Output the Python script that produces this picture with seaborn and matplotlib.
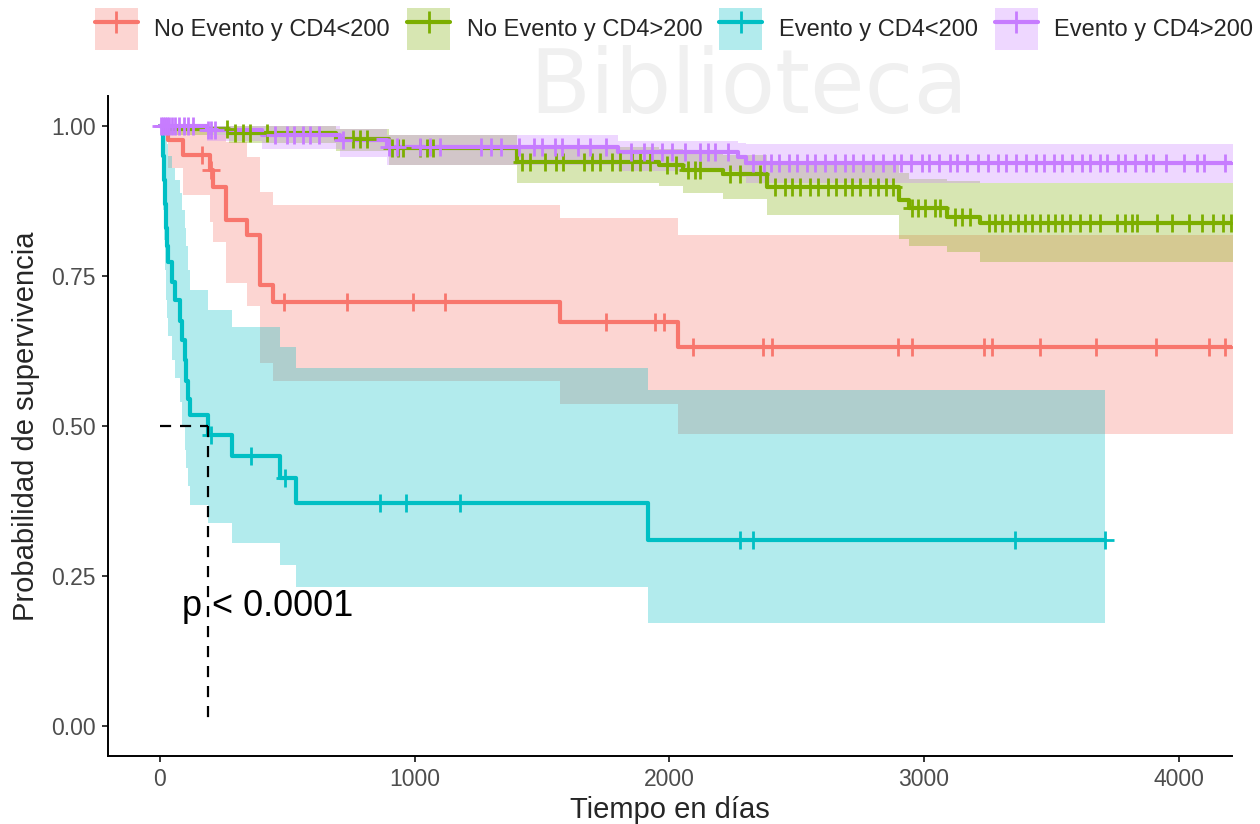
import numpy as np
import pandas as pd
import matplotlib
matplotlib.use("Agg")
import matplotlib.pyplot as plt
import seaborn as sns
from matplotlib.patches import Patch
from matplotlib.lines import Line2D
from matplotlib.legend_handler import HandlerTuple

# ---------------- data ----------------
groups = ["No Evento y CD4<200", "No Evento y CD4>200", "Evento y CD4<200", "Evento y CD4>200"]
colors = ["#F8766D", "#7CAE00", "#00BFC4", "#C77CFF"]

red_t = [31, 90, 196, 210, 259, 342, 393, 444, 1570, 2035]
red_s = [0.977, 0.952, 0.927, 0.898, 0.843, 0.818, 0.735, 0.707, 0.673, 0.632]
red_hi = [1.0, 1.0, 0.995, 0.985, 0.973, 0.948, 0.89, 0.868, 0.847, 0.818]
red_lo = [0.93, 0.885, 0.84, 0.807, 0.738, 0.70, 0.605, 0.575, 0.537, 0.487]
red_cens = [165, 200, 487, 734, 993, 1119, 1751, 1943, 1979, 2093, 2367, 2403, 2898, 2952,
            3235, 3267, 3455, 3675, 3910, 4119, 4181]
red_end = 4300

green_t = [40, 270, 690, 900, 1402, 1960, 2053, 2210, 2383, 2902, 2941, 3090, 3220]
green_s = [0.995, 0.988, 0.978, 0.963, 0.940, 0.935, 0.927, 0.920, 0.898, 0.877, 0.863, 0.848, 0.838]
green_hi = [1.0, 1.0, 0.995, 0.985, 0.965, 0.962, 0.958, 0.952, 0.935, 0.922, 0.912, 0.908, 0.905]
green_lo = [0.985, 0.972, 0.958, 0.935, 0.905, 0.90, 0.888, 0.878, 0.852, 0.812, 0.80, 0.79, 0.773]
green_cens = [263, 294, 326, 353, 420, 758, 785, 813, 911, 934, 954, 1021, 1048, 1072,
              1421, 1453, 1512, 1555, 1582, 1665, 1696, 1727, 1775, 1806, 1853, 1884, 1924,
              1990, 2026, 2073, 2100, 2120, 2238, 2277, 2356, 2415, 2454, 2481, 2513, 2552,
              2583, 2623, 2654, 2689, 2717, 2748, 2787, 2819, 2850, 2878, 2952, 2976, 3003,
              3043, 3062, 3121, 3149, 3180, 3255, 3278, 3306, 3337, 3369, 3396, 3423, 3455,
              3486, 3514, 3541, 3573, 3612, 3651, 3690, 3757, 3789, 3816, 3836, 3914, 3973,
              4040, 4091, 4134, 4173, 4205]
green_end = 4300

cyan_t = [12, 16, 20, 24, 28, 31, 47, 59, 79, 86, 98, 102, 110, 118, 188, 282, 470, 534, 1916]
cyan_s = [0.95, 0.91, 0.87, 0.83, 0.80, 0.773, 0.74, 0.71, 0.675, 0.643, 0.61, 0.575, 0.545,
          0.518, 0.485, 0.45, 0.413, 0.372, 0.31]
cyan_hi = [1.0, 1.0, 1.0, 0.99, 0.97, 0.95, 0.93, 0.91, 0.888, 0.86, 0.83, 0.80, 0.76,
           0.727, 0.693, 0.665, 0.632, 0.597, 0.56]
cyan_lo = [0.86, 0.81, 0.76, 0.71, 0.68, 0.65, 0.61, 0.58, 0.54, 0.50, 0.46, 0.43, 0.40,
           0.368, 0.338, 0.305, 0.268, 0.232, 0.172]
cyan_cens = [200, 357, 491, 864, 966, 1178, 2277, 2328, 3357, 3710]
cyan_end = 3710

purple_t = [185, 400, 707, 891, 1800, 2270, 2300]
purple_s = [0.993, 0.985, 0.977, 0.965, 0.957, 0.948, 0.938]
purple_hi = [1.0, 1.0, 0.995, 0.985, 0.975, 0.972, 0.97]
purple_lo = [0.975, 0.962, 0.948, 0.935, 0.925, 0.915, 0.905]
purple_cens = [5, 12, 20, 28, 35, 48, 60, 75, 95, 110, 130, 190, 200, 215, 450, 500, 525, 560,
               590, 625, 720, 900, 930, 1020, 1060, 1100, 1260, 1300, 1340, 1410, 1470, 1500,
               1550, 1580, 1640, 1690, 1750, 1850, 1900, 1930, 1970, 2010, 2060, 2120, 2150,
               2180, 2230, 2330, 2370, 2400, 2430, 2470, 2500, 2540, 2570, 2610, 2650, 2690,
               2720, 2760, 2800, 2840, 2880, 2910, 2950, 2990, 3020, 3060, 3100, 3130, 3170,
               3210, 3250, 3290, 3320, 3360, 3400, 3440, 3470, 3510, 3540, 3580, 3620, 3650,
               3690, 3720, 3760, 3790, 3830, 3870, 3900, 3950, 4020, 4070, 4100, 4180, 4230]
purple_end = 4300

x_ticks = [0, 1000, 2000, 3000, 4000]
y_ticks = [0.00, 0.25, 0.50, 0.75, 1.00]
pval_text = "p < 0.0001"

curves = [
    (red_t, red_s, red_hi, red_lo, red_cens, red_end),
    (green_t, green_s, green_hi, green_lo, green_cens, green_end),
    (cyan_t, cyan_s, cyan_hi, cyan_lo, cyan_cens, cyan_end),
    (purple_t, purple_s, purple_hi, purple_lo, purple_cens, purple_end),
]

# ---------------- build tables ----------------
line_rows, cens_rows = [], []
for g, (t, s, hi, lo, cens, end) in zip(groups, curves):
    tt = [0] + list(t) + [end]
    ss = [1.0] + list(s) + [s[-1]]
    hh = [1.0] + list(hi) + [hi[-1]]
    ll = [1.0] + list(lo) + [lo[-1]]
    for a, b, c, d in zip(tt, ss, hh, ll):
        line_rows.append((g, a, b, c, d))
    tarr = np.array([0] + list(t))
    sarr = np.array([1.0] + list(s))
    for c in cens:
        idx = np.searchsorted(tarr, c, side="right") - 1
        cens_rows.append((g, c, sarr[idx]))

lines_df = pd.DataFrame(line_rows, columns=["grupo", "tiempo", "surv", "upper", "lower"])
cens_df = pd.DataFrame(cens_rows, columns=["grupo", "tiempo", "surv"])
palette = dict(zip(groups, colors))

# ---------------- plot ----------------
sns.set_style("ticks")
plt.rcParams["font.family"] = ["Liberation Sans", "DejaVu Sans"]

fig = plt.figure(figsize=(12.6, 8.24), dpi=100)
fig.patch.set_facecolor("white")
ax = fig.add_axes([108 / 1260, 1 - 756 / 824, (1232 - 108) / 1260, (756 - 96) / 824])
ax.patch.set_alpha(0)

# faint watermark
fig.text(0.594, 1 - 113 / 824, "Biblioteca", fontsize=64, color="#F0F0F0", ha="center",
         va="baseline", family="DejaVu Sans", zorder=-5)

for g in groups:
    d = lines_df[lines_df.grupo == g]
    ax.fill_between(d.tiempo, d.lower, d.upper, step="post", color=palette[g], alpha=0.3,
                    linewidth=0, zorder=1)

sns.lineplot(data=lines_df, x="tiempo", y="surv", hue="grupo", hue_order=groups,
             palette=palette, estimator=None, sort=False, drawstyle="steps-post",
             linewidth=3, legend=False, ax=ax, zorder=2)

for g in groups:
    d = cens_df[cens_df.grupo == g]
    sns.scatterplot(data=d, x="tiempo", y="surv", color=palette[g], marker="+", s=170,
                    linewidth=2, legend=False, ax=ax, zorder=3)

# median survival line for the lowest group
ct = np.array([0] + cyan_t)
cs = np.array([1.0] + cyan_s)
med_t = ct[np.argmax(cs <= 0.5)]
ax.plot([0, med_t], [0.5, 0.5], color="black", lw=1.6, ls=(0, (5, 4)), zorder=4)
ax.plot([med_t, med_t], [0.5, 0.0], color="black", lw=1.6, ls=(0, (5, 4)), zorder=4)

ax.text(86, 0.2, pval_text, fontsize=26, ha="left", va="center", color="black", zorder=5)

ax.set_xlim(-204, 4209)
ax.set_ylim(-0.05, 1.05)
ax.set_xticks(x_ticks)
ax.set_xticklabels([str(v) for v in x_ticks])
ax.set_yticks(y_ticks)
ax.set_yticklabels([f"{v:.2f}" for v in y_ticks])
ax.tick_params(axis="both", labelsize=16.5, labelcolor="#4D4D4D", length=4, width=1.1,
               color="black", pad=5, direction="out")
for side in ["top", "right"]:
    ax.spines[side].set_visible(False)
for side in ["left", "bottom"]:
    ax.spines[side].set_linewidth(1.4)
    ax.spines[side].set_color("black")
ax.set_xlabel("Tiempo en días", fontsize=21, labelpad=3)
ax.set_ylabel("Probabilidad de supervivencia", fontsize=21, labelpad=8)

handles = [(Patch(facecolor=c, alpha=0.3, edgecolor="none"),
            Line2D([], [], color=c, lw=3, marker="+", markersize=16, mew=2)) for c in colors]
fig.legend(handles, groups, handler_map={tuple: HandlerTuple(ndivide=1, pad=0)},
           loc="upper left", bbox_to_anchor=(95 / 1260, 1 - 8 / 824), ncol=4, frameon=False,
           fontsize=17, handlelength=1.82, handleheight=2.35, handletextpad=0.7,
           columnspacing=0.72, borderpad=0, borderaxespad=0)

fig.savefig("out.png", dpi=100)
